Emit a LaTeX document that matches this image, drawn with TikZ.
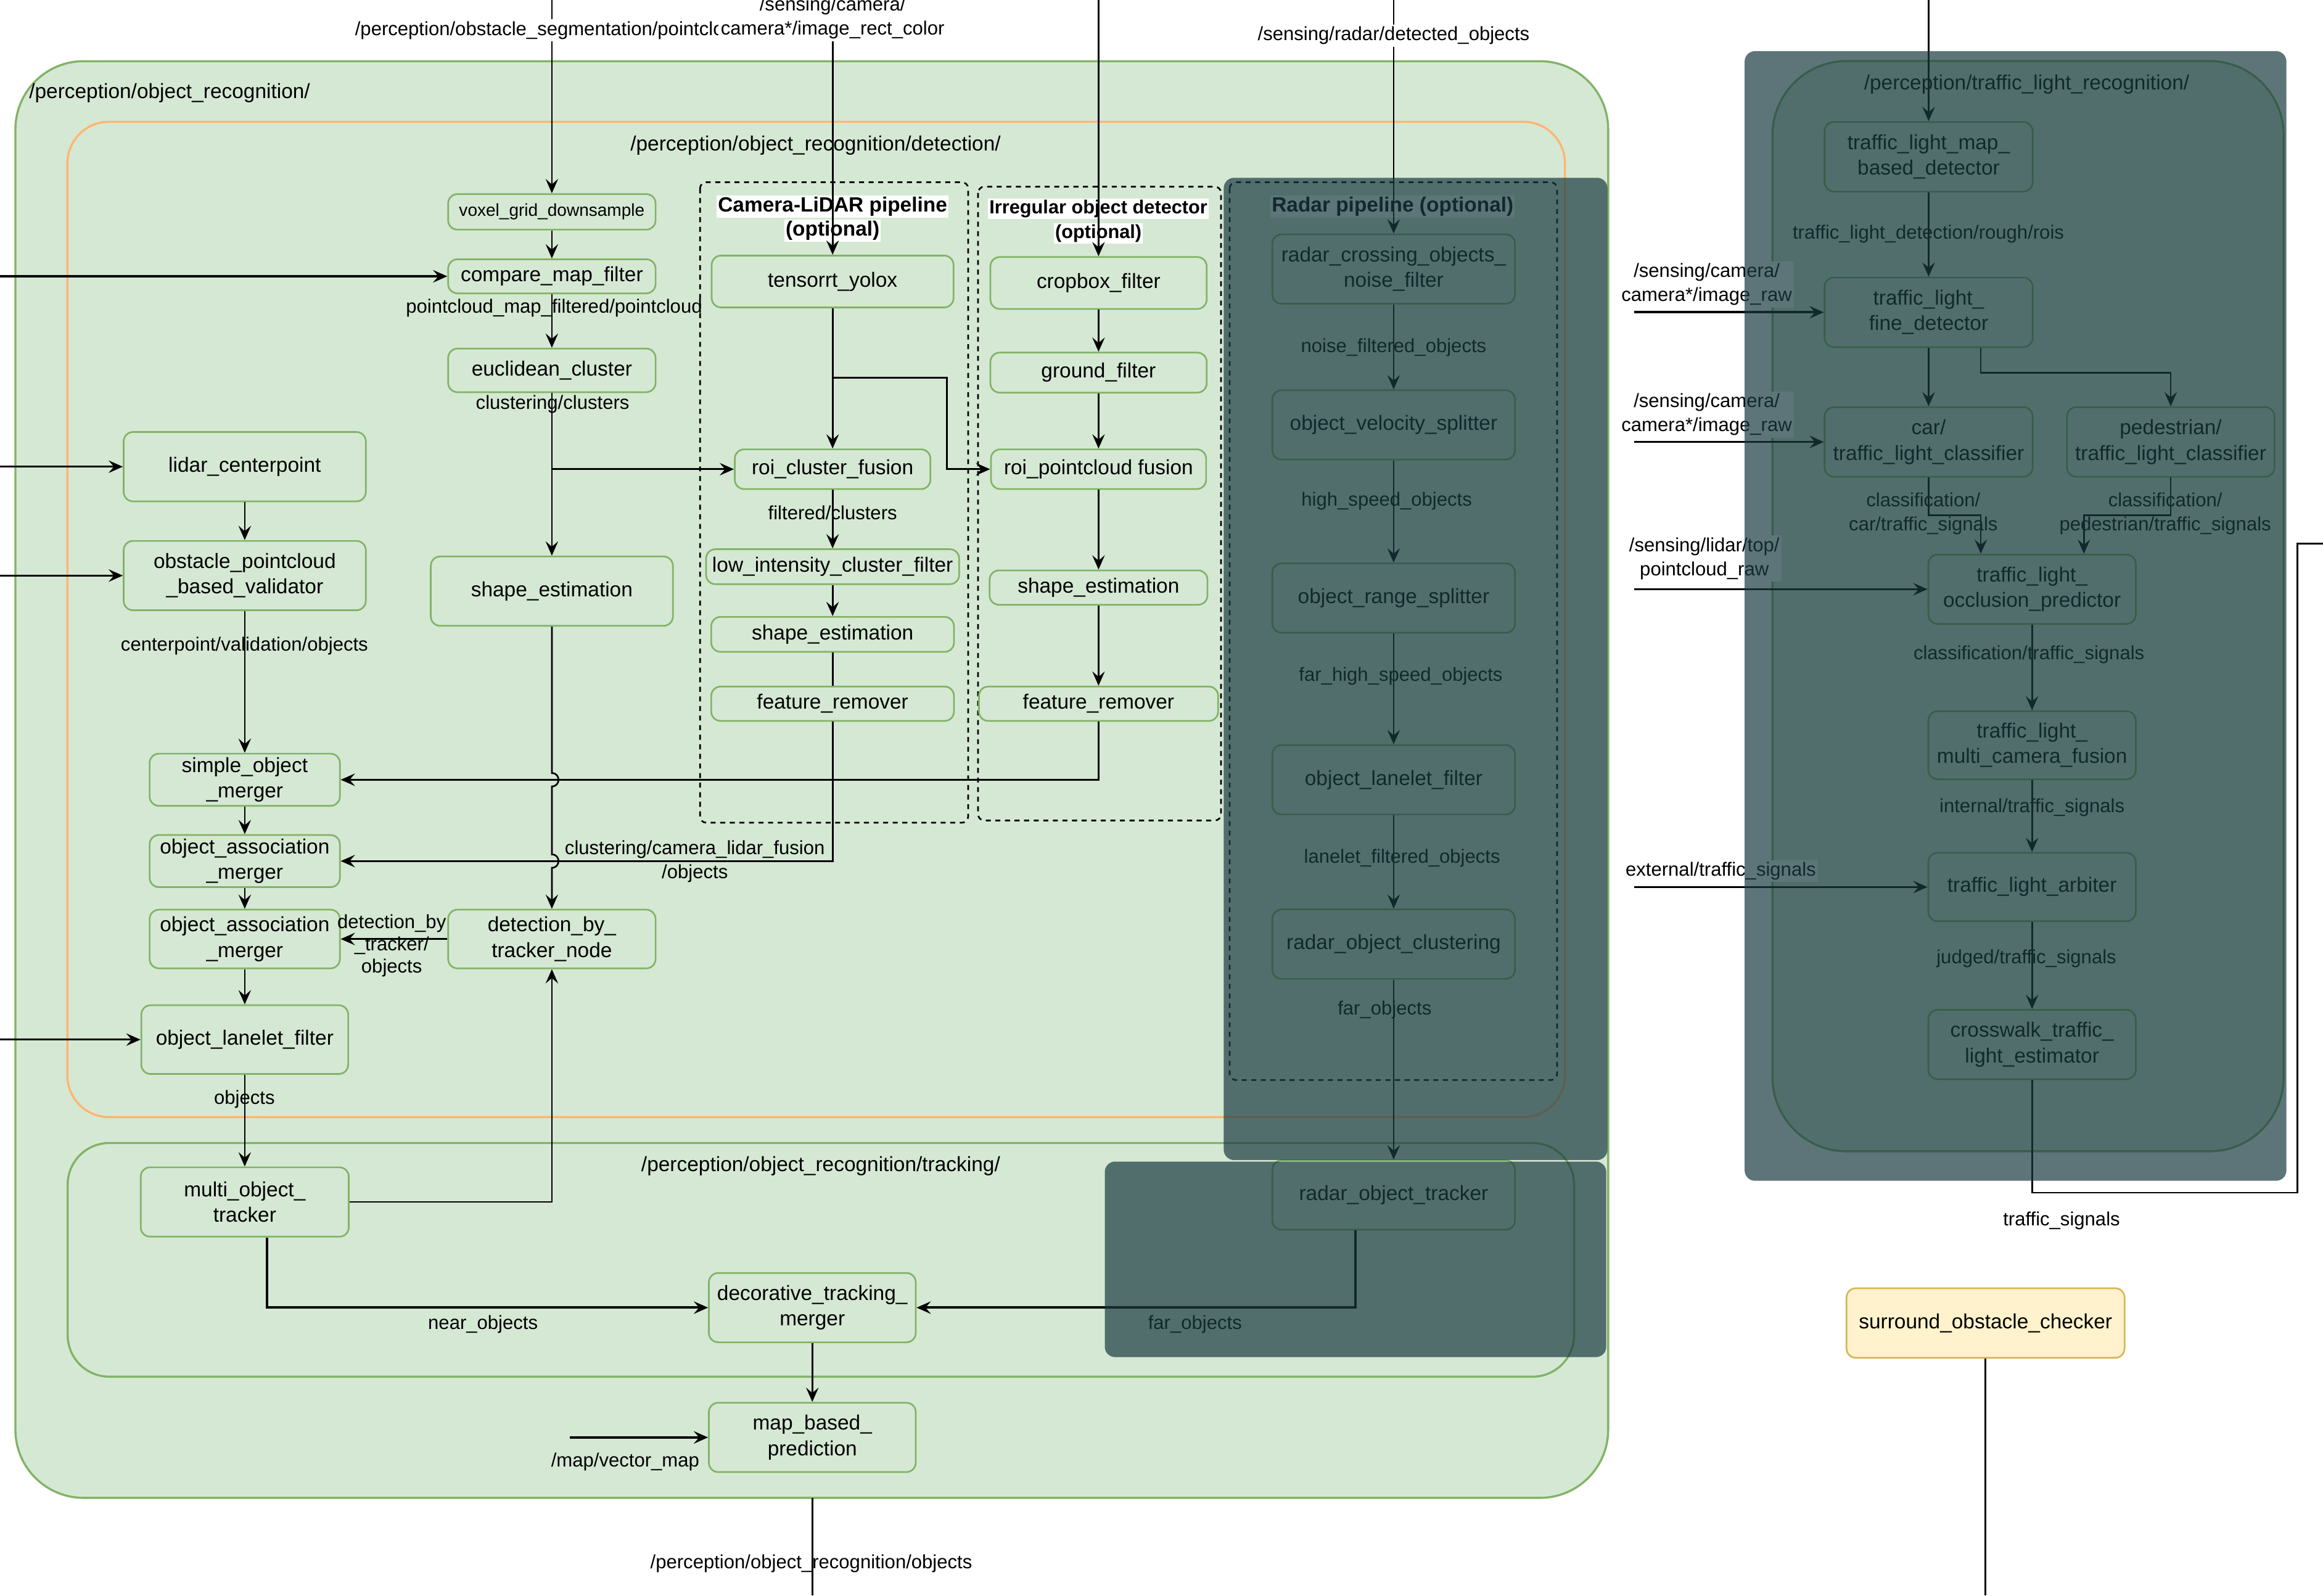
\documentclass[tikz,border=0pt]{standalone}
\usepackage{fontspec}
\setmainfont{Liberation Sans}
\usepackage{xcolor}
\definecolor{leafFill}{HTML}{D5E8D4}
\definecolor{leafLine}{HTML}{82B366}
\definecolor{detectLine}{HTML}{FFB570}
\definecolor{sandFill}{HTML}{FFF2CC}
\definecolor{sandLine}{HTML}{D6B656}
\definecolor{slateVeil}{HTML}{193B40}
\usepackage{tikz}
\usetikzlibrary{
    arrows.meta
}
\tikzset{
    % Base style for all module boxes - soft green
    module/.style={
        draw=leafLine,
        fill=leafFill,
        line width=0.8pt,
        rounded corners=4.5pt,
        align=center,
        inner sep=1pt,
        text=black,
        font=\fontsize{9.9}{12.3}\selectfont,
    },
    % Module with smaller text
    module small/.style={
        module,
        font=\fontsize{8.3}{10}\selectfont,
    },
    % Checker node - soft yellow
    checker/.style={
        module,
        draw=sandLine,
        fill=sandFill,
    },
    % Box size
    boxsize/.style 2 args={
        minimum width=#1,
        minimum height=#2,
    },
    % Namespace frames
    group/.style={
        draw=leafLine,
        line width=1pt,
    },
    % Optional pipelines - dashed frame
    pipeline/.style={
        draw=black,
        line width=0.8pt,
        dash pattern=on 2.4pt off 2.2pt,
        rounded corners=3pt,
    },
    % Namespace titles
    title/.style={
        font=\fontsize{9.9}{12}\selectfont,
        inner sep=1pt,
    },
    % Bold pipeline headers on white
    header/.style={
        font=\fontsize{9.9}{12}\selectfont\bfseries,
        fill=white,
        inner sep=0.6pt,
    },
    header small/.style={
        header,
        font=\fontsize{9.1}{11}\selectfont\bfseries,
    },
    % Topic names
    topic/.style={
        font=\fontsize{9.2}{11.6}\selectfont,
        align=center,
        inner sep=1pt,
    },
    % Input topics on white
    source/.style={
        topic,
        fill=white,
    },
    % Arrow style
    arrow/.style={
        -{Stealth[length=2.4mm, width=2.1mm, inset=0.9mm]},
        line width=0.8pt,
    },
    arrow thick/.style={
        arrow,
        line width=1.2pt,
    },
    wire/.style={
        line width=0.8pt,
    },
    % Translucent cover over radar and traffic light parts
    veil/.style={
        fill=slateVeil,
        fill opacity=0.7,
        rounded corners=5pt,
    },
}

\begin{document}
\begin{tikzpicture}[x=0.025cm, y=-0.025cm]
    \fill[white] (0,0) rectangle (1568,1077);
    \useasboundingbox (0,0) rectangle (1568,1077);

    \draw[group, fill=leafFill, rounded corners=1.15cm] (10.4,41.3) rectangle (1085.5,1011);
    \draw[group, draw=detectLine, rounded corners=0.7cm] (45.5,82.2) rectangle (1056.3,754);
    \draw[group, rounded corners=0.7cm] (45.7,771.5) rectangle (1062.5,929.2);
    \draw[group, fill=leafFill, rounded corners=1.25cm] (1196.4,41.2) rectangle (1541.4,777.1);
    \draw[pipeline] (472.5,123) rectangle (653.5,555.3);
    \draw[pipeline] (660.2,126) rectangle (824.2,553.8);
    \draw[pipeline] (830,123) rectangle (1051,729);

    \node[title, anchor=west] (rec_title) at (18,63) {/perception/object\_recognition/};
    \node[title] (det_title) at (550.5,98) {/perception/object\_recognition/detection/};
    \node[title] (trk_title) at (554,787) {/perception/object\_recognition/tracking/};
    \node[title] (tl_title) at (1368,57) {/perception/traffic\_light\_recognition/};
    \node[header] (cam_head) at (562,139.4) {Camera-LiDAR pipeline};
    \node[header] (cam_opt) at (562,155.7) {(optional)};
    \node[header small] (irr_head) at (741.4,141) {Irregular object detector};
    \node[header small] (irr_opt) at (741.4,157.6) {(optional)};
    \node[header] (rad_head) at (940,139.4) {Radar pipeline (optional)};

    \node[module small, boxsize={3.5cm}{0.6cm}] (voxel) at (372.5,143) {voxel\_grid\_downsample};
    \node[module, boxsize={3.5cm}{0.575cm}] (compare) at (372.5,186.5) {compare\_map\_filter};
    \node[module, boxsize={3.5cm}{0.735cm}] (euclid) at (372.5,250) {euclidean\_cluster};
    \node[module, boxsize={4.085cm}{1.17cm}] (shape_big) at (372.5,399) {shape\_estimation};
    \node[module, boxsize={3.5cm}{0.99cm}] (dbt) at (372.5,633.8) {detection\_by\_\\tracker\_node};
    \node[module, boxsize={4.085cm}{1.17cm}] (centerpoint) at (165.2,315) {lidar\_centerpoint};
    \node[module, boxsize={4.085cm}{1.17cm}] (validator) at (165.2,388.5) {obstacle\_pointcloud\\\_based\_validator};
    \node[module, boxsize={3.21cm}{0.88cm}] (simple_merger) at (165.2,526.3) {simple\_object\\\_merger};
    \node[module, boxsize={3.21cm}{0.88cm}] (assoc_a) at (165.2,581.2) {object\_association\\\_merger};
    \node[module, boxsize={3.21cm}{0.99cm}] (assoc_b) at (165.2,633.8) {object\_association\\\_merger};
    \node[module, boxsize={3.49cm}{1.16cm}] (obj_lanelet) at (165.2,701.7) {object\_lanelet\_filter};
    \node[module, boxsize={3.51cm}{1.17cm}] (mot) at (165.2,811.3) {multi\_object\_\\tracker};
    \node[module, boxsize={3.49cm}{1.17cm}] (merger) at (548.3,882.6) {decorative\_tracking\_\\merger};
    \node[module, boxsize={3.49cm}{1.17cm}] (prediction) at (548.3,970.2) {map\_based\_\\prediction};

    \node[module, boxsize={4.08cm}{0.875cm}] (yolox) at (562,190) {tensorrt\_yolox};
    \node[module, boxsize={3.3cm}{0.67cm}] (roi_cluster) at (562,316.7) {roi\_cluster\_fusion};
    \node[module, boxsize={4.27cm}{0.59cm}] (low_intensity) at (562,382.5) {low\_intensity\_cluster\_filter};
    \node[module, boxsize={4.095cm}{0.59cm}] (shape_cam) at (562,428.2) {shape\_estimation};
    \node[module, boxsize={4.095cm}{0.58cm}] (remover_cam) at (562,475) {feature\_remover};

    \node[module, boxsize={3.65cm}{0.875cm}] (cropbox) at (741.5,191) {cropbox\_filter};
    \node[module, boxsize={3.65cm}{0.675cm}] (ground) at (741.5,251.5) {ground\_filter};
    \node[module, boxsize={3.63cm}{0.67cm}] (roi_pc) at (741.5,316.7) {roi\_pointcloud fusion};
    \node[module, boxsize={3.675cm}{0.58cm}] (shape_irr) at (741.5,396.6) {shape\_estimation};
    \node[module, boxsize={4.035cm}{0.58cm}] (remover_irr) at (741.5,475) {feature\_remover};

    \node[module, boxsize={4.095cm}{1.17cm}] (crossing) at (940.7,181.6) {radar\_crossing\_objects\_\\noise\_filter};
    \node[module, boxsize={4.095cm}{1.17cm}] (velocity) at (940.7,286.8) {object\_velocity\_splitter};
    \node[module, boxsize={4.095cm}{1.17cm}] (range) at (940.7,403.7) {object\_range\_splitter};
    \node[module, boxsize={4.095cm}{1.17cm}] (lanelet_rad) at (940.7,526.3) {object\_lanelet\_filter};
    \node[module, boxsize={4.095cm}{1.17cm}] (clustering) at (940.7,637.3) {radar\_object\_clustering};
    \node[module, boxsize={4.095cm}{1.17cm}] (radar_tracker) at (940.7,806.6) {radar\_object\_tracker};

    \node[module, boxsize={3.51cm}{1.175cm}] (tl_map) at (1301.8,105.8) {traffic\_light\_map\_\\based\_detector};
    \node[module, boxsize={3.51cm}{1.175cm}] (tl_fine) at (1301.8,210.8) {traffic\_light\_\\fine\_detector};
    \node[module, boxsize={3.51cm}{1.175cm}] (tl_car) at (1301.8,298.3) {car/\\traffic\_light\_classifier};
    \node[module, boxsize={3.5cm}{1.175cm}] (tl_ped) at (1465.2,298.3) {pedestrian/\\traffic\_light\_classifier};
    \node[module, boxsize={3.5cm}{1.17cm}] (tl_occl) at (1371.6,397.7) {traffic\_light\_\\occlusion\_predictor};
    \node[module, boxsize={3.5cm}{1.15cm}] (tl_fusion) at (1371.6,503) {traffic\_light\_\\multi\_camera\_fusion};
    \node[module, boxsize={3.5cm}{1.155cm}] (tl_arbiter) at (1371.6,598.7) {traffic\_light\_arbiter};
    \node[module, boxsize={3.5cm}{1.17cm}] (tl_crosswalk) at (1371.6,705) {crosswalk\_traffic\_\\light\_estimator};
    \node[checker, boxsize={4.69cm}{1.175cm}] (surround) at (1340.2,893) {surround\_obstacle\_checker};

    \coordinate (in_obst) at (372.5,0);
    \coordinate (in_cam) at (562,0);
    \coordinate (in_irr) at (741.5,0);
    \coordinate (in_radar) at (940.7,0);
    \coordinate (in_tl) at (1301.8,0);
    \coordinate (in_map) at (0,186.5);
    \coordinate (in_centerpoint) at (0,315);
    \coordinate (in_validator) at (0,388.5);
    \coordinate (in_lanelet) at (0,701.7);
    \coordinate (in_vector) at (384.7,970.2);
    \coordinate (in_img_a) at (1103,210.8);
    \coordinate (in_img_b) at (1103,298.3);
    \coordinate (in_lidar) at (1103,397.7);
    \coordinate (in_ext) at (1103,598.7);
    \coordinate (yolox_turn) at (639.2,255);
    \coordinate (near_turn) at (180.3,882.6);
    \coordinate (far_turn) at (915,882.6);
    \coordinate (ped_turn) at (1337,251.7);
    \coordinate (car_join) at (1337,347.8);
    \coordinate (ped_join) at (1406.6,347.8);
    \coordinate (sig_corner) at (1550.6,805);
    \coordinate (sig_out) at (1568,367);
    \coordinate (rec_exit) at (548.3,1011);
    \coordinate (bottom_edge) at (0,1077);

    \draw[arrow] (in_obst) -- (voxel);
    \draw[arrow] (voxel) -- (compare);
    \draw[arrow thick] (in_map) -- (compare);
    \draw[arrow] (compare) -- (euclid);
    \draw[arrow] (euclid) -- (shape_big);
    \draw[arrow] (euclid.south |- roi_cluster.west) -- (roi_cluster);
    \draw[arrow] (shape_big.south) -- (372.5,521.8) to[out=0, in=0, looseness=1.7] (372.5,530.8)
        -- (372.5,576.7) to[out=0, in=0, looseness=1.7] (372.5,585.7) -- (dbt.north);
    \draw[arrow] (in_cam) -- (yolox);
    \draw[arrow] (yolox) -- (roi_cluster);
    \draw[arrow] (yolox.south |- yolox_turn) -- (yolox_turn) |- (roi_pc);
    \draw[arrow] (roi_cluster) -- (low_intensity);
    \draw[arrow] (low_intensity) -- (shape_cam);
    \draw[wire] (shape_cam) -- (remover_cam);
    \draw[arrow] (remover_cam.south) |- (assoc_a);
    \draw[arrow] (in_irr) -- (cropbox);
    \draw[arrow] (cropbox) -- (ground);
    \draw[arrow] (ground) -- (roi_pc);
    \draw[arrow] (roi_pc) -- (shape_irr);
    \draw[arrow] (shape_irr) -- (remover_irr);
    \draw[arrow] (remover_irr.south) |- (simple_merger);
    \draw[arrow] (in_centerpoint) -- (centerpoint);
    \draw[arrow] (centerpoint) -- (validator);
    \draw[arrow] (in_validator) -- (validator);
    \draw[arrow] (validator) -- (simple_merger);
    \draw[arrow] (simple_merger) -- (assoc_a);
    \draw[arrow] (assoc_a) -- (assoc_b);
    \draw[arrow] (dbt) -- (assoc_b);
    \draw[arrow] (assoc_b) -- (obj_lanelet);
    \draw[arrow] (in_lanelet) -- (obj_lanelet);
    \draw[arrow] (obj_lanelet) -- (mot);
    \draw[arrow] (mot) -| (dbt);
    \draw[arrow thick] (mot.south -| near_turn) -- (near_turn) -- (merger);
    \draw[arrow thick] (radar_tracker.south -| far_turn) -- (far_turn) -- (merger);
    \draw[arrow] (merger) -- (prediction);
    \draw[arrow thick] (in_vector) -- (prediction);
    \draw[wire] (rec_exit) -- (rec_exit |- bottom_edge);
    \draw[arrow] (in_radar) -- (crossing);
    \draw[arrow] (crossing) -- (velocity);
    \draw[arrow] (velocity) -- (range);
    \draw[arrow] (range) -- (lanelet_rad);
    \draw[arrow] (lanelet_rad) -- (clustering);
    \draw[arrow] (clustering) -- (radar_tracker);
    \draw[arrow] (in_tl) -- (tl_map);
    \draw[arrow] (tl_map) -- (tl_fine);
    \draw[arrow thick] (in_img_a) -- (tl_fine);
    \draw[arrow] (tl_fine) -- (tl_car);
    \draw[arrow] (tl_fine.south -| ped_turn) -- (ped_turn) -| (tl_ped);
    \draw[arrow] (in_img_b) -- (tl_car);
    \draw[arrow] (tl_car) |- (car_join) -- (tl_occl.north -| car_join);
    \draw[arrow] (tl_ped) |- (ped_join) -- (tl_occl.north -| ped_join);
    \draw[arrow] (in_lidar) -- (tl_occl);
    \draw[arrow] (tl_occl) -- (tl_fusion);
    \draw[arrow] (tl_fusion) -- (tl_arbiter);
    \draw[arrow] (in_ext) -- (tl_arbiter);
    \draw[arrow] (tl_arbiter) -- (tl_crosswalk);
    \draw[wire] (tl_crosswalk) |- (sig_corner) |- (sig_out);
    \draw[wire] (surround) -- (surround.south |- bottom_edge);

    \node[source, anchor=west] (src_obst) at (238,20.4) {/perception/obstacle\_segmentation/pointclo};
    \node[source] (src_cam) at (562,12.2) {/sensing/camera/\\camera*/image\_rect\_color};
    \node[source] (src_radar) at (940.7,24) {/sensing/radar/detected\_objects};
    \node[source] (src_img_a) at (1152,192) {/sensing/camera/\\camera*/image\_raw};
    \node[source] (src_img_b) at (1152,279.8) {/sensing/camera/\\camera*/image\_raw};
    \node[source] (src_lidar) at (1150.4,377) {/sensing/lidar/top/\\pointcloud\_raw};
    \node[source] (src_ext) at (1161.5,588) {external/traffic\_signals};

    \node[topic] (lbl_pcmap) at (374,207.7) {pointcloud\_map\_filtered/pointcloud};
    \node[topic] (lbl_clusters) at (373,272.8) {clustering/clusters};
    \node[topic] (lbl_centerpoint) at (165,436.2) {centerpoint/validation/objects};
    \node[topic] (lbl_filtered) at (562,346) {filtered/clusters};
    \node[topic] (lbl_fusion) at (469,581.4) {clustering/camera\_lidar\_fusion\\/objects};
    \node[topic, font=\fontsize{9.2}{10.7}\selectfont] (lbl_dbt) at (264.4,638.4) {detection\_by\\\_tracker/\\objects};
    \node[topic] (lbl_objects) at (165,742) {objects};
    \node[topic] (lbl_near) at (326,894) {near\_objects};
    \node[topic] (lbl_far_trk) at (806.6,894) {far\_objects};
    \node[topic] (lbl_vector) at (422,986.8) {/map/vector\_map};
    \node[topic] (lbl_out) at (547.6,1055.5) {/perception/object\_recognition/objects};
    \node[topic] (lbl_noise) at (940.7,234.5) {noise\_filtered\_objects};
    \node[topic] (lbl_high) at (936,338.3) {high\_speed\_objects};
    \node[topic] (lbl_farhigh) at (945.5,456.2) {far\_high\_speed\_objects};
    \node[topic] (lbl_lanelet) at (946.4,579) {lanelet\_filtered\_objects};
    \node[topic] (lbl_far_rad) at (934.6,681.7) {far\_objects};
    \node[topic] (lbl_rois) at (1301.6,158) {traffic\_light\_detection/rough/rois};
    \node[topic] (lbl_car_sig) at (1298.2,346.8) {classification/\\car/traffic\_signals};
    \node[topic] (lbl_ped_sig) at (1461.5,346.8) {classification/\\pedestrian/traffic\_signals};
    \node[topic] (lbl_cls_sig) at (1369.5,442) {classification/traffic\_signals};
    \node[topic] (lbl_int_sig) at (1371.6,545) {internal/traffic\_signals};
    \node[topic] (lbl_judged) at (1367.8,647) {judged/traffic\_signals};
    \node[topic] (lbl_signals) at (1391.5,824) {traffic\_signals};

    \fill[veil] (826,120) rectangle (1085,783);
    \fill[veil] (745.7,784) rectangle (1084.2,916);
    \fill[veil] (1177.6,34.5) rectangle (1543.3,797);
\end{tikzpicture}
\end{document}
